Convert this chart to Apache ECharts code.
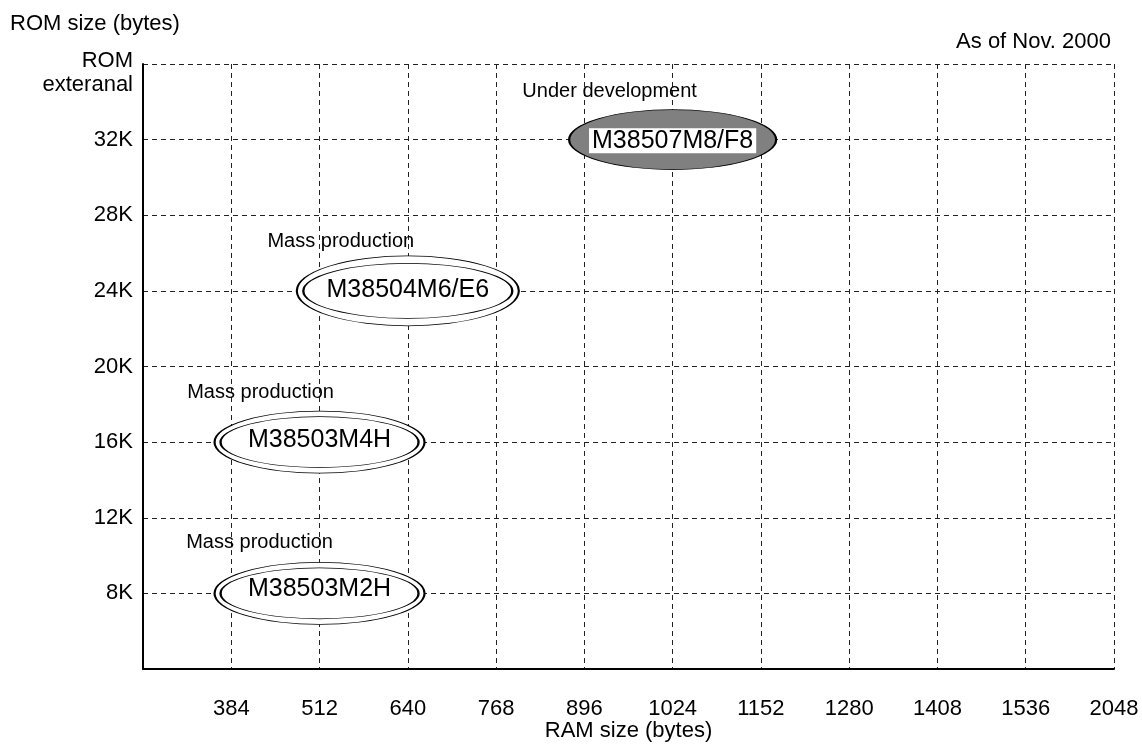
<!DOCTYPE html>
<html><head><meta charset="utf-8">
<script src="https://cdn.jsdelivr.net/npm/echarts@6/dist/echarts.min.js"></script>
<style>html,body{margin:0;padding:0;background:#fff}#c{width:1142px;height:744px}</style>
</head><body><div id="c"></div>
<script>
// ---- data ----
const xTicks = ['', '384', '512', '640', '768', '896', '1024', '1152', '1280', '1408', '1536', '2048'];
const yTickValues = [4, 8, 12, 16, 20, 24, 28, 32, 36];
const yTickLabels = ['', '8K', '12K', '16K', '20K', '24K', '28K', '32K', 'ROM\nexteranal'];
const products = ['M38507M8/F8', 'M38504M6/E6', 'M38503M4H', 'M38503M2H'];
const ramBytes = ['1024', '640', '512', '512'];
const romK = [32, 24, 16, 8];
const status = ['Under development', 'Mass production', 'Mass production', 'Mass production'];
const underDevelopment = [true, false, false, false];

// ---- styles ----
const FONT = '"Liberation Sans", Arial, sans-serif';
const look = {
  'M38507M8/F8': { size: [207, 60], inner: null,      labelOffset: [0, 1],  statusOffset: [-63, -48] },
  'M38504M6/E6': { size: [222, 70], inner: [209, 55], labelOffset: [0, -1], statusOffset: [-67, -49] },
  'M38503M4H':   { size: [210, 62], inner: [198, 51], labelOffset: [0, -2], statusOffset: [-59, -50] },
  'M38503M2H':   { size: [210, 62], inner: [198, 51], labelOffset: [0, -4], statusOffset: [-60, -51] }
};
const LINE_W = 1.2;

const pos = i => [xTicks.indexOf(ramBytes[i]), romK[i]];
const nameLabel = (i, extra) => Object.assign({
  show: true, position: 'inside', formatter: products[i], offset: look[products[i]].labelOffset,
  fontSize: 25, fontFamily: FONT, color: '#000'
}, extra || {});

const filledData = [], outerData = [], innerData = [], statusData = [];
products.forEach((p, i) => {
  const st = look[p];
  if (underDevelopment[i]) {
    filledData.push({ value: pos(i), symbolSize: st.size,
      label: nameLabel(i, { backgroundColor: '#fff', padding: [0, 3], lineHeight: 25 }) });
  } else {
    outerData.push({ value: pos(i), symbolSize: st.size });
    innerData.push({ value: pos(i), symbolSize: st.inner, label: nameLabel(i) });
  }
  statusData.push({ value: pos(i), label: {
    show: true, position: 'inside', formatter: status[i], offset: st.statusOffset,
    fontSize: 20, fontFamily: FONT, color: '#000', opacity: 1 } });
});

const dashed = { show: true, lineStyle: { color: '#222', width: 1, type: [5, 4] } };

const chart = echarts.init(document.getElementById('c'));
chart.setOption({
  animation: false,
  backgroundColor: '#fff',
  textStyle: { fontFamily: FONT },
  title: [
    { text: 'ROM size (bytes)', left: 5, top: 8, textStyle: { fontSize: 22, fontWeight: 'normal', color: '#000', fontFamily: FONT } },
    { text: 'As of Nov. 2000', right: 26, top: 26, textStyle: { fontSize: 22, fontWeight: 'normal', color: '#000', fontFamily: FONT } }
  ],
  grid: { left: 143, right: 28, top: 64, bottom: 75, containLabel: false, outerBoundsMode: 'none' },
  xAxis: {
    type: 'value', min: 0, max: xTicks.length - 1, interval: 1,
    name: 'RAM size (bytes)', nameLocation: 'middle', nameGap: 51, nameMoveOverlap: false,
    nameTextStyle: { fontSize: 22, color: '#000', fontFamily: FONT },
    axisLine: { show: true, lineStyle: { color: '#000', width: 2 } },
    axisTick: { show: false },
    axisLabel: { formatter: v => xTicks[v], fontSize: 22, color: '#000', margin: 29, fontFamily: FONT, showMinLabel: true, showMaxLabel: true },
    splitLine: dashed
  },
  yAxis: {
    type: 'value', min: 4, max: 36, interval: 4,
    axisLine: { show: true, lineStyle: { color: '#000', width: 2 } },
    axisTick: { show: false },
    axisLabel: {
      fontSize: 22, color: '#000', margin: 10, fontFamily: FONT, align: 'right',
      formatter: v => {
        const t = yTickLabels[yTickValues.indexOf(v)] || '';
        if (t.indexOf('\n') >= 0) {
          const parts = t.split('\n');
          return '{s| }\n{a|' + parts[0] + '}\n{a|' + parts[1] + '}';
        }
        return t;
      },
      rich: {
        s: { fontSize: 10, lineHeight: 18, color: '#000', fontFamily: FONT, align: 'right' },
        a: { fontSize: 22, lineHeight: 24, color: '#000', fontFamily: FONT, align: 'right' }
      }
    },
    splitLine: dashed
  },
  series: [
    { type: 'scatter', name: 'under development', symbol: 'circle', silent: true, data: filledData,
      itemStyle: { color: '#808080', borderColor: '#000', borderWidth: LINE_W, opacity: 1 } },
    { type: 'scatter', name: 'outer ring', symbol: 'circle', silent: true, data: outerData,
      itemStyle: { color: '#fff', borderColor: '#000', borderWidth: LINE_W, opacity: 1 } },
    { type: 'scatter', name: 'inner ring', symbol: 'circle', silent: true, data: innerData,
      itemStyle: { color: '#fff', borderColor: '#000', borderWidth: LINE_W, opacity: 1 } },
    { type: 'scatter', name: 'status', symbol: 'circle', symbolSize: 1, silent: true, data: statusData,
      itemStyle: { color: '#fff', opacity: 1 } }
  ]
});
</script></body></html>
